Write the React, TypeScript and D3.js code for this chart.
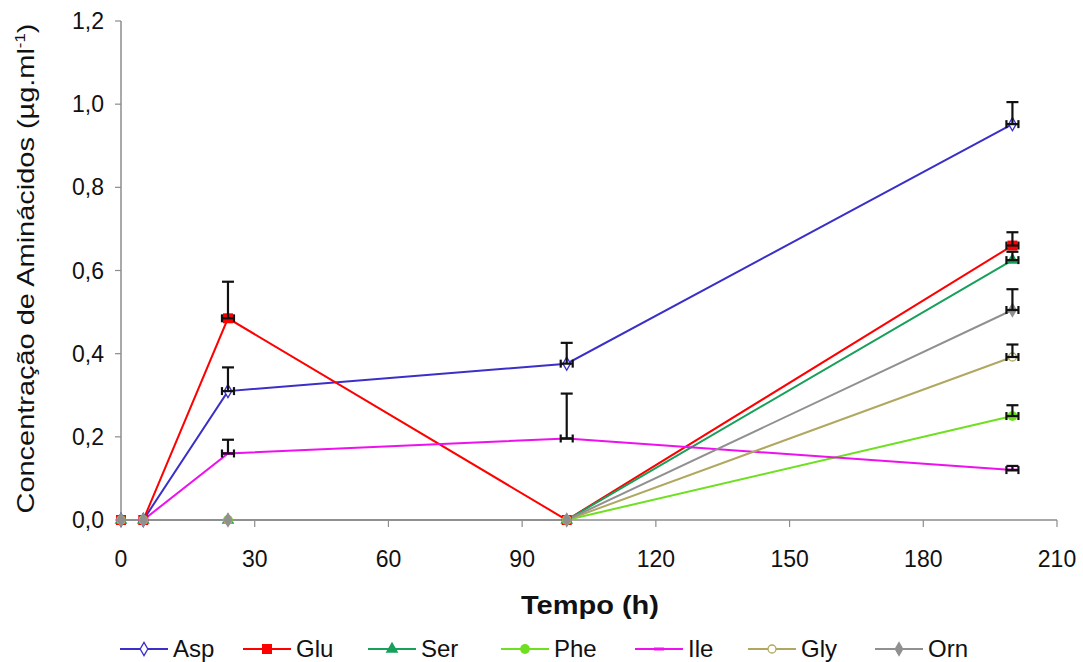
import React from "react";
import * as d3 from "d3";

const hours = [0, 5, 24, 100, 200];
const xTicks = [0, 30, 60, 90, 120, 150, 180, 210];
const yTicks = [0, 0.2, 0.4, 0.6, 0.8, 1.0, 1.2];

const seriesNames = ["Asp", "Glu", "Ser", "Phe", "Ile", "Gly", "Orn"];
const aspValues = [0, 0, 0.31, 0.376, 0.952];
const aspErr = [0, 0, 0.057, 0.05, 0.053];
const gluValues = [0, 0, 0.485, 0, 0.66];
const gluErr = [0, 0, 0.088, 0, 0.032];
const serValues = [0, 0, 0, 0, 0.625];
const serErr = [0, 0, 0, 0, 0.02];
const pheValues = [0, 0, 0, 0, 0.25];
const pheErr = [0, 0, 0, 0, 0.026];
const ileValues = [0, 0, 0.16, 0.196, 0.12];
const ileErr = [0, 0, 0.033, 0.108, 0.01];
const glyValues = [0, 0, 0, 0, 0.392];
const glyErr = [0, 0, 0, 0, 0.03];
const ornValues = [0, 0, 0, 0, 0.505];
const ornErr = [0, 0, 0, 0, 0.05];

const colors = ["#3a2fc8", "#ff0000", "#17a05a", "#6ee020", "#ee10ee", "#b0a860", "#909090"];
const markerKinds = ["diamondOpen", "square", "triangle", "circle", "dash", "circleOpen", "diamond"];

const values = [aspValues, gluValues, serValues, pheValues, ileValues, glyValues, ornValues];
const errors = [aspErr, gluErr, serErr, pheErr, ileErr, glyErr, ornErr];

const W = 1083;
const H = 662;
const left = 121;
const right = 1057;
const top = 21;
const bottom = 520;

const x = d3.scaleLinear().domain([0, 210]).range([left, right]);
const y = d3.scaleLinear().domain([0, 1.2]).range([bottom, top]);
const fmt = (v: number) => d3.format(".1f")(v).replace(".", ",");
const FONT = "'Liberation Sans', Arial, sans-serif";

function Marker({ kind, color, cx, cy }: { kind: string; color: string; cx: number; cy: number }) {
  const t = `translate(${cx},${cy})`;
  if (kind === "dash") {
    return <rect x={cx - 5} y={cy - 1.5} width={10} height={3} fill={color} />;
  }
  if (kind === "square") {
    return <path transform={t} d={d3.symbol(d3.symbolSquare, 100)()!} fill={color} />;
  }
  if (kind === "triangle") {
    return <path transform={t} d={d3.symbol(d3.symbolTriangle, 70)()!} fill={color} />;
  }
  if (kind === "circle") {
    return <path transform={t} d={d3.symbol(d3.symbolCircle, 75)()!} fill={color} />;
  }
  if (kind === "circleOpen") {
    return <path transform={t} d={d3.symbol(d3.symbolCircle, 50)()!} fill="#fff" stroke={color} strokeWidth={1.3} />;
  }
  if (kind === "diamondOpen") {
    return <path transform={t} d={d3.symbol(d3.symbolDiamond, 50)()!} fill="#fff" stroke={color} strokeWidth={1.3} />;
  }
  return <path transform={t} d={d3.symbol(d3.symbolDiamond, 70)()!} fill={color} />;
}

export default function App() {
  const line = d3
    .line<number>()
    .x((_, i) => x(hours[i]))
    .y((v) => y(v));

  const legendY = 649;
  const legendStarts = [120, 243, 368, 501, 635, 748, 875];

  return (
    <svg width={W} height={H} style={{ position: "absolute", left: 0, top: 0, background: "#fff" }} fontFamily={FONT}>
      <rect width={W} height={H} fill="#fff" />
      {/* axes */}
      <line x1={left} x2={left} y1={top} y2={bottom} stroke="#8c8c8c" strokeWidth={1.5} />
      <line x1={left} x2={right} y1={bottom} y2={bottom} stroke="#8c8c8c" strokeWidth={1.5} />
      {yTicks.map((t) => (
        <g key={"y" + t}>
          <line x1={left - 6} x2={left} y1={y(t)} y2={y(t)} stroke="#8c8c8c" strokeWidth={1.2} />
          <text x={104} y={y(t) + 8} textAnchor="end" fontSize={23} fill="#111">
            {fmt(t)}
          </text>
        </g>
      ))}
      {xTicks.map((t) => (
        <g key={"x" + t}>
          <line x1={x(t)} x2={x(t)} y1={bottom} y2={bottom + 7} stroke="#8c8c8c" strokeWidth={1.2} />
          <text x={x(t)} y={567} textAnchor="middle" fontSize={23} fill="#111">
            {t}
          </text>
        </g>
      ))}
      <text x={590} y={614} textAnchor="middle" fontSize={25} fontWeight="bold" fill="#111" textLength={138} lengthAdjust="spacingAndGlyphs">
        Tempo (h)
      </text>
      <text
        transform={`translate(34,${(23 + 514) / 2}) rotate(-90)`}
        textAnchor="middle"
        fontSize={24}
        fill="#111"
        textLength={490}
        lengthAdjust="spacingAndGlyphs"
      >
        Concentração de Aminácidos (µg.ml<tspan dy={-9} fontSize={14}>-1</tspan>
        <tspan dy={9}>)</tspan>
      </text>

      {/* lines */}
      {values.map((vals, s) => (
        <path key={"l" + s} d={line(vals)!} fill="none" stroke={colors[s]} strokeWidth={2} />
      ))}
      {/* markers and error bars */}
      {values.map((vals, s) => (
        <g key={"m" + s}>
          {vals.map((v, i) => (
            <Marker key={i} kind={markerKinds[s]} color={colors[s]} cx={x(hours[i])} cy={y(v)} />
          ))}
          {vals.map((v, i) => {
            const e = errors[s][i];
            if (e <= 0) return null;
            const cx = x(hours[i]);
            const y0 = y(v);
            const y1 = y(v + e);
            return (
              <g key={"e" + i} stroke="#111" strokeWidth={2.2} fill="none">
                <line x1={cx} x2={cx} y1={y0} y2={y1} />
                <line x1={cx - 6} x2={cx + 6} y1={y1} y2={y1} />
                <line x1={cx - 6} x2={cx + 6} y1={y0} y2={y0} />
                <line x1={cx - 6} x2={cx - 6} y1={y0 - 4} y2={y0 + 4} />
                <line x1={cx + 6} x2={cx + 6} y1={y0 - 4} y2={y0 + 4} />
              </g>
            );
          })}
        </g>
      ))}

      {/* legend */}
      {seriesNames.map((name, s) => {
        const sx = legendStarts[s];
        return (
          <g key={"lg" + s}>
            <line x1={sx} x2={sx + 48} y1={legendY} y2={legendY} stroke={colors[s]} strokeWidth={2} />
            <Marker kind={markerKinds[s]} color={colors[s]} cx={sx + 24} cy={legendY} />
            <text x={sx + 53} y={657} fontSize={24} fill="#111">
              {name}
            </text>
          </g>
        );
      })}
    </svg>
  );
}
